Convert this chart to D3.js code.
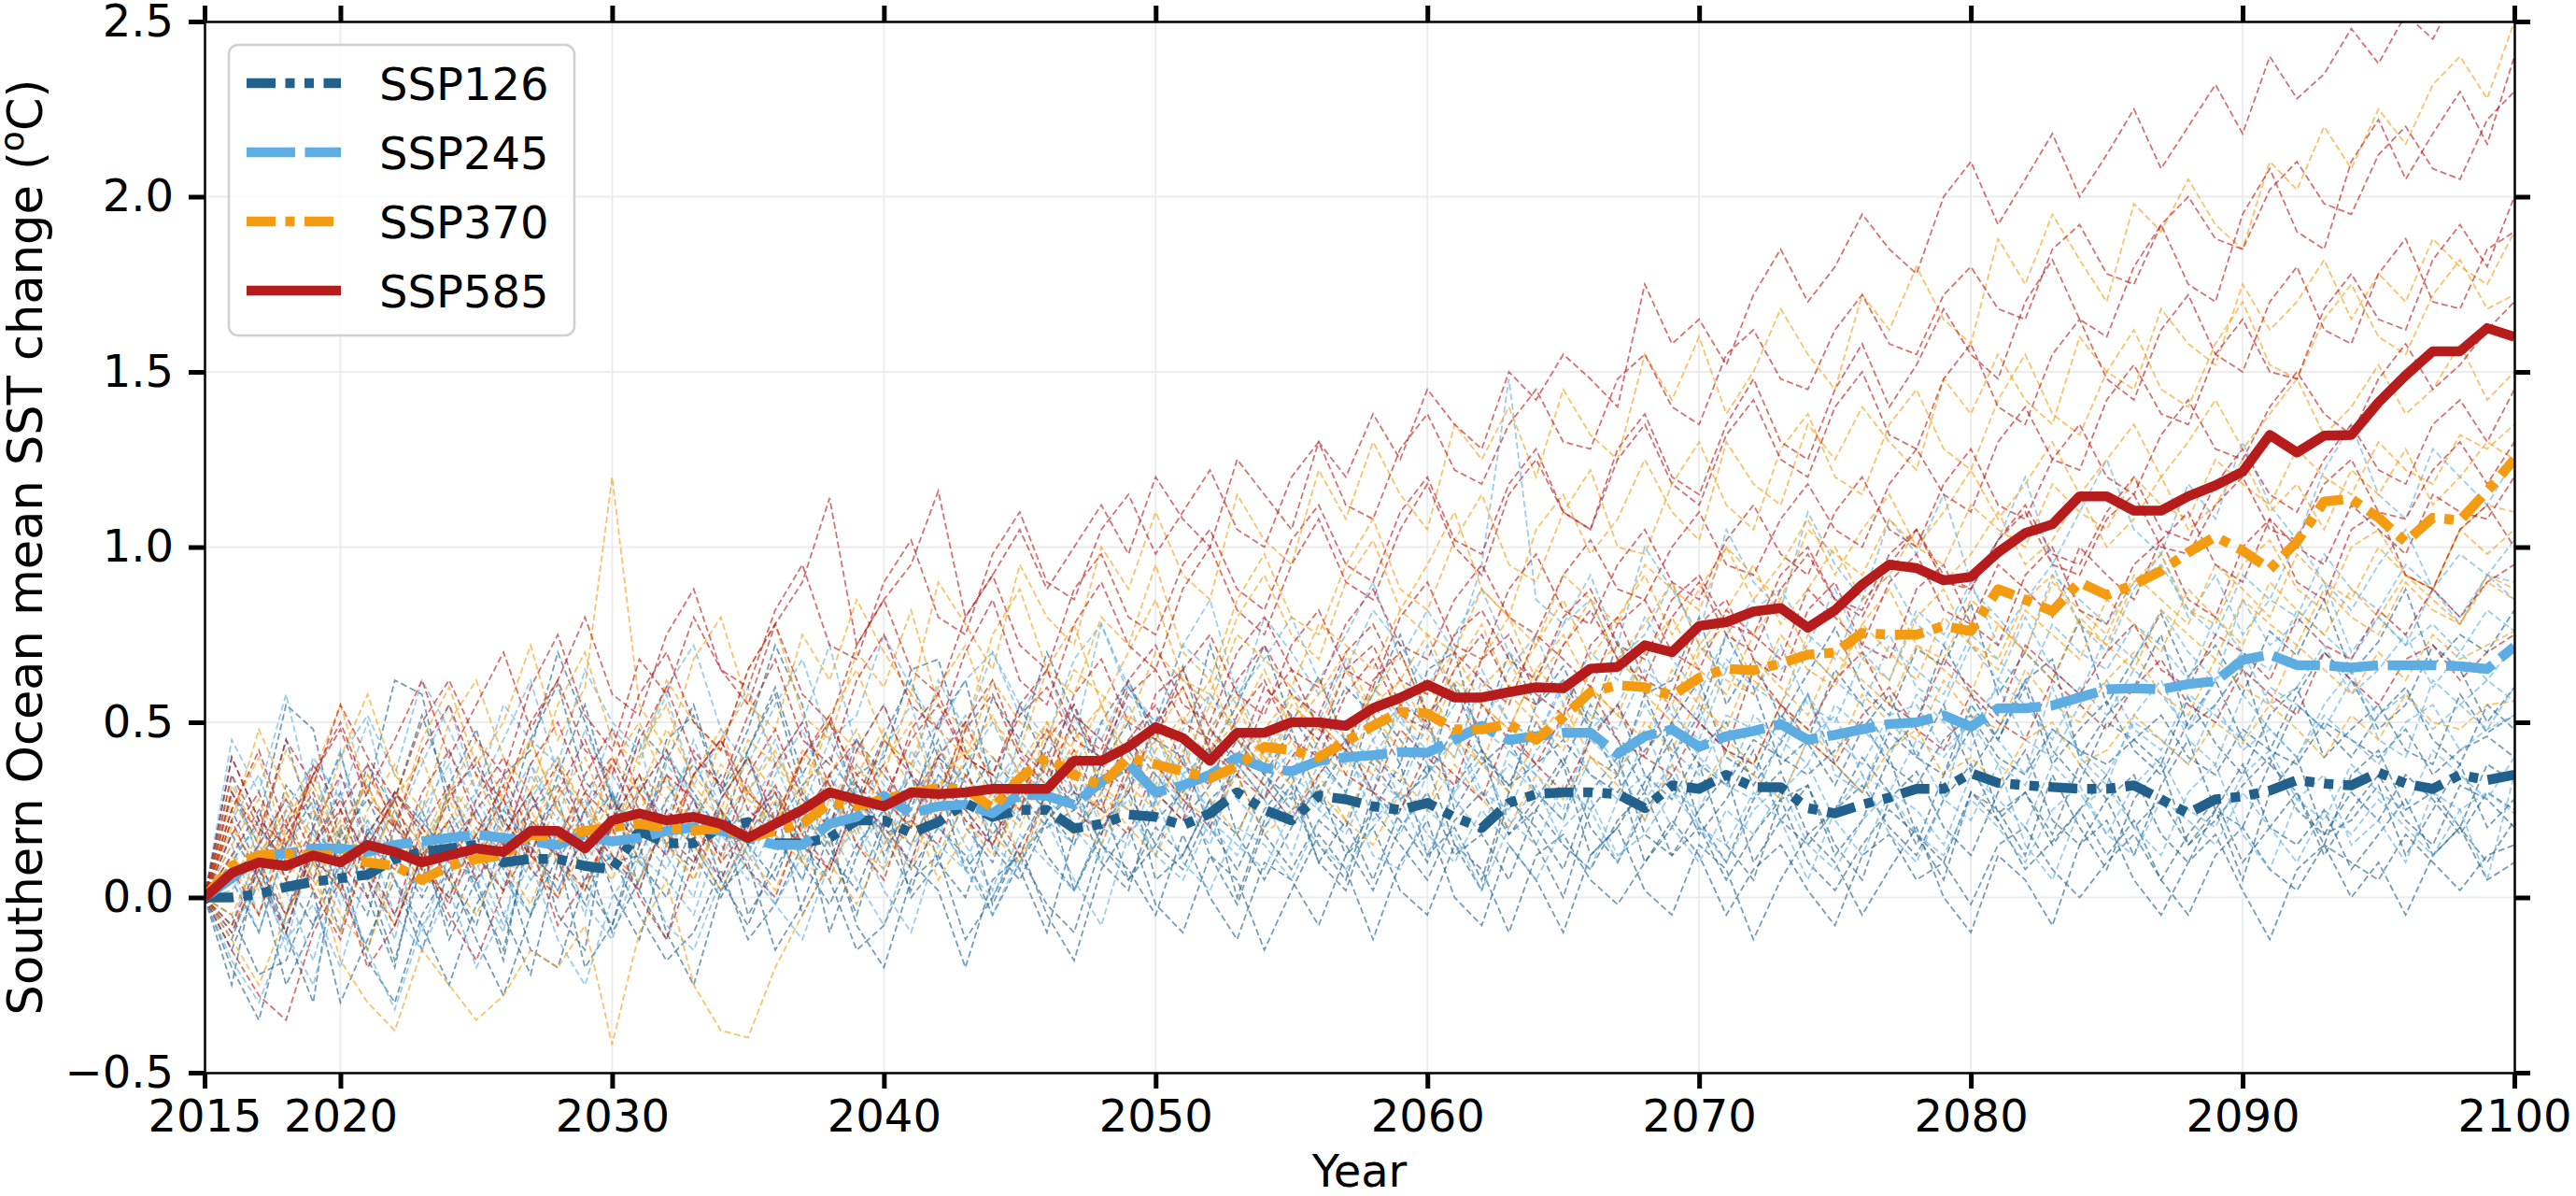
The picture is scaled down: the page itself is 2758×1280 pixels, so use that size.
<!DOCTYPE html>
<html>
<head>
<meta charset="utf-8">
<script src="https://cdn.jsdelivr.net/npm/d3@7"></script>
<style>
html,body{margin:0;padding:0;background:#fff;}
svg{display:block;}
</style>
</head>
<body>
<script>
// ---------------- DATA ----------------
const years = d3.range(2015, 2101);
const xTickValues = [2015, 2020, 2030, 2040, 2050, 2060, 2070, 2080, 2090, 2100];
const yTickValues = [-0.5, 0.0, 0.5, 1.0, 1.5, 2.0, 2.5];
const scenarios = ["SSP126", "SSP245", "SSP370", "SSP585"];
const scenarioColors = ["#21618C", "#5DADE2", "#F39C12", "#B71C1C"];

const ssp126Mean = [
0,0,.01,.03,.045,.055,.065,.11,.13,.14,
.15,.10,.11,.11,.09,.08,.19,.155,.155,.20,
.215,.155,.155,.17,.22,.22,.184,.215,.27,.23,
.25,.25,.197,.21,.237,.23,.206,.24,.30,.25,
.22,.29,.28,.26,.25,.27,.229,.198,.27,.295,
.30,.30,.295,.255,.32,.31,.35,.315,.315,.255,
.24,.265,.285,.31,.31,.355,.327,.32,.315,.31,
.31,.32,.28,.24,.28,.288,.305,.335,.325,.32,
.357,.325,.31,.35,.335,.35];
const ssp245Mean = [
0,.055,.12,.125,.14,.14,.13,.15,.16,.17,
.18,.17,.16,.15,.18,.16,.17,.19,.20,.19,
.17,.15,.15,.21,.23,.29,.24,.26,.265,.24,
.295,.29,.265,.33,.38,.30,.32,.35,.40,.37,
.36,.39,.40,.406,.415,.413,.45,.49,.45,.46,
.47,.47,.41,.46,.48,.43,.46,.475,.495,.45,
.464,.48,.495,.50,.52,.487,.54,.54,.548,.571,
.594,.597,.594,.609,.617,.678,.693,.663,.663,.656,
.663,.663,.663,.66,.652,.716];
const ssp370Mean = [
0,.09,.12,.125,.12,.12,.10,.09,.05,.09,
.11,.12,.18,.17,.19,.20,.21,.20,.19,.20,
.17,.19,.21,.27,.26,.28,.30,.31,.31,.255,
.34,.40,.35,.32,.40,.38,.36,.34,.375,.43,
.42,.40,.445,.49,.53,.525,.48,.48,.495,.45,
.515,.586,.606,.60,.576,.627,.653,.648,.668,.693,
.699,.755,.75,.75,.775,.76,.88,.85,.817,.90,
.863,.893,.932,.985,1.03,.99,.937,1.015,1.13,1.138,
1.084,1.015,1.084,1.076,1.16,1.25];
const ssp585Mean = [
0,.07,.10,.09,.12,.10,.15,.13,.10,.12,
.14,.13,.19,.19,.14,.22,.24,.22,.23,.21,
.17,.21,.25,.30,.28,.26,.30,.295,.30,.31,
.31,.31,.39,.39,.43,.486,.455,.39,.47,.47,
.50,.50,.49,.54,.57,.607,.571,.571,.586,.60,
.597,.653,.658,.72,.70,.775,.786,.816,.826,.77,
.82,.893,.95,.94,.905,.915,.985,1.04,1.065,1.145,
1.145,1.104,1.104,1.145,1.176,1.215,1.32,1.27,1.318,1.32,
1.413,1.49,1.559,1.559,1.625,1.60];

// individual model runs (thin dashed lines), 2015..2100
const ssp126Models = [
[0,.18,.05,.32,.22,.41,.15,.28,.52,.30, .38,.20,.45,.61,.33,.25,.48,.39,.55,.30, .42,.60,.35,.50,.28,.46,.62,.40,.33,.57, .45,.70,.52,.38,.60,.48,.66,.41,.55,.72, .50,.63,.44,.58,.75,.52,.61,.47,.70,.55, .66,.49,.73,.58,.62,.80,.55,.68,.51,.64, .77,.60,.52,.71,.66,.84,.58,.70,.62,.79, .55,.68,.81,.63,.72,.58,.76,.69,.85,.64, .73,.88,.66,.75,.70,.82],
[0,-.12,.10,-.05,.20,.02,-.15,.12,.25,.05, -.08,.18,.30,.10,-.02,.22,.35,.15,.08,.28, .40,.18,.05,.25,.33,.12,.28,.45,.20,.10, .32,.25,.15,.38,.50,.22,.30,.42,.18,.35, .48,.28,.20,.40,.33,.52,.25,.38,.45,.30, .22,.46,.55,.35,.28,.42,.50,.32,.44,.58, .38,.30,.47,.40,.55,.36,.48,.62,.42,.33, .50,.45,.38,.57,.44,.35,.52,.60,.40,.48, .55,.42,.38,.58,.47,.52],
[0,.25,.08,-.10,.15,.30,.05,-.18,.10,.22, .02,-.15,.18,.28,.04,-.08,.20,.35,.12,.00, .15,.27,-.05,.10,.32,.18,.02,.25,.38,.14, .05,.22,.30,.10,.02,.28,.40,.20,.08,.25, .35,.15,.05,.30,.22,.10,.32,.42,.18,.25, .38,.12,.20,.33,.45,.22,.10,.28,.36,.18, .25,.40,.30,.15,.35,.48,.24,.30,.18,.38, .28,.12,.32,.45,.25,.20,.38,.30,.15,.35, .42,.25,.30,.20,.38,.33],
[0,-.20,-.35,-.05,.12,-.10,.20,.05,-.15,.08, .18,-.05,-.22,.10,.25,.02,-.12,.15,.28,.05, -.08,.12,.30,.15,-.05,.20,.35,.10,.00,.22, .08,-.10,.18,.28,.05,.15,.32,.12,-.02,.20, .30,.10,.22,.05,.25,.38,.15,.02,.28,.20, .08,.30,.40,.18,.12,.25,.35,.10,.22,.32, .15,.05,.28,.36,.20,.12,.30,.42,.22,.15, .28,.35,.18,.10,.25,.38,.20,.30,.12,.25, .35,.22,.15,.32,.28,.20],
[0,.10,.22,.05,-.08,.18,.28,.12,.00,.15, .25,.08,-.05,.20,.12,-.10,.05,.22,.15,.02, .18,.30,.10,-.02,.15,.25,.08,.20,.12,-.05, .10,.22,.32,.15,.05,.20,.12,.28,.35,.18, .08,.22,.15,.02,.20,.30,.12,.18,.05,.25, .15,.08,.22,.30,.12,.20,.05,.18,.28,.10, .02,.15,.25,.18,.10,.30,.22,.08,.16,.25, .12,.22,.05,.18,.28,.10,.20,.15,.25,.08, .18,.28,.12,.20,.10,.22],
[0,-.15,.05,-.25,-.08,.10,-.18,-.30,-.05,.08, -.12,-.28,-.05,.12,-.20,-.08,.15,-.10,-.25,.02, .10,-.15,-.02,.18,-.08,-.20,.05,.12,-.12,.00, .15,-.05,-.18,.08,.20,-.02,-.10,.12,.05,-.15, .02,.18,.08,-.12,.10,.22,.00,-.08,.15,.05, -.10,.12,.20,.02,-.05,.15,.08,-.12,.05,.18, .10,-.05,.08,.20,.00,-.10,.12,.05,-.08,.15, .22,.05,-.05,.10,.18,.02,-.12,.08,.15,.00, .10,-.05,.12,.20,.05,.10],
[0,.30,.15,.45,.20,.10,.38,.25,.05,.32, .48,.22,.12,.35,.55,.28,.15,.40,.30,.18, .42,.58,.30,.20,.45,.35,.25,.50,.62,.32, .22,.40,.55,.30,.45,.35,.25,.48,.38,.28, .52,.40,.30,.55,.45,.35,.60,.42,.32,.50, .38,.55,.45,.30,.50,.62,.40,.35,.52,.44, .32,.48,.58,.40,.35,.55,.45,.60,.38,.48, .56,.42,.35,.50,.62,.45,.38,.55,.48,.40, .52,.60,.45,.38,.55,.48],
[0,.05,-.10,.15,.28,.08,-.05,.20,.12,-.08, .10,.25,.15,.02,.18,.30,.10,.00,.22,.35, .15,.05,.25,.12,.02,.22,.15,.32,.08,.18, .28,.12,.02,.20,.30,.15,.08,.25,.18,.05, .20,.32,.12,.25,.15,.05,.22,.30,.18,.28, .40,.20,.10,.25,.35,.18,.28,.42,.22,.15, .25,.32,.20,.12,.28,.38,.22,.30,.15,.25, .35,.20,.28,.15,.22,.32,.40,.25,.18,.30, .22,.35,.28,.18,.30,.25],
[0,.40,.22,.55,.48,.15,.30,.62,.58,.25, .10,.35,.42,.70,.50,.28,.18,.45,.52,.30, .48,.72,.55,.20,.35,.40,.65,.68,.42,.30, .55,.38,.25,.50,.62,.45,.40,.72,.48,.35, .28,.45,.60,.52,.38,.65,.70,.42,.30,.55, .62,.48,.35,.58,.40,.52,.75,.60,.38,.45, .65,.55,.42,.50,.72,.58,.45,.62,.68,.40, .52,.60,.75,.48,.55,.66,.42,.58,.70,.62, .48,.55,.72,.65,.50,.60],
[0,-.05,-.22,-.18,.02,-.30,-.12,.05,-.08,-.25, -.02,.10,-.15,-.20,.05,.12,-.05,-.18,-.10,.08, -.12,-.02,.15,.05,-.15,-.08,.10,.02,-.20,.05, .12,-.02,-.10,.15,.08,-.05,.18,.00,-.12,.10, .05,-.08,.12,.20,.02,-.05,.15,.08,-.10,.12, .18,.05,-.02,.10,.22,.12,-.05,.08,.15,.02, -.08,.12,.18,.05,.10,-.02,.15,.20,.08,.00, .10,.18,.05,-.05,.12,.20,.08,.02,.15,.10, .05,.18,.10,.02,.12,.15],
[0,.08,.12,.20,.10,.05,.18,.30,.22,.12, .05,.15,.25,.32,.20,.10,.12,.28,.38,.25, .15,.20,.32,.40,.28,.18,.22,.35,.28,.40, .30,.20,.25,.38,.42,.30,.22,.32,.45,.35, .25,.30,.42,.38,.28,.35,.48,.40,.32,.38, .45,.35,.30,.42,.50,.38,.32,.45,.40,.35, .42,.50,.38,.32,.45,.52,.40,.35,.48,.42, .38,.45,.52,.40,.35,.48,.42,.38,.50,.45, .40,.48,.35,.42,.46,.40],
[0,-.25,.12,-.10,-.30,.20,.00,-.20,.15,-.12, .05,-.18,.22,-.05,-.15,.30,.02,-.12,.18,.25, -.05,.08,.22,-.10,.12,.30,.00,.10,.28,-.02, .15,.30,.02,.18,.35,.05,.12,.28,.00,.22, .32,.10,.02,.25,.38,.12,.20,.05,.30,.15, .00,.25,.35,.10,.20,.38,.15,.05,.28,.32, .12,.22,.40,.18,.05,.30,.25,.12,.35,.20, .08,.28,.38,.15,.25,.05,.30,.40,.18,.22, .32,.12,.25,.38,.20,.28]
];
const ssp245Models = [
[0,.22,.35,.12,.40,.28,.50,.20,.38,.55, .30,.45,.62,.35,.25,.48,.40,.58,.32,.45, .60,.38,.50,.72,.42,.55,.35,.62,.48,.70, .52,.65,.45,.78,.60,.50,.72,.85,.58,.68, .80,.62,.75,.90,.68,.82,.70,.95,1.48,.85, .78,.92,.72,1.00,.88,.75,1.05,.90,.82,1.10, .95,.85,1.08,.98,1.15,.90,1.02,1.20,.95,1.10, 1.25,1.05,.98,1.18,1.08,1.30,1.12,1.02,1.22,1.35, 1.15,1.08,1.28,1.20,1.12,1.25],
[0,.08,-.10,.15,.25,.05,.18,-.05,.12,.30, .15,.02,.28,.40,.18,.08,.32,.22,.45,.25, .12,.35,.48,.28,.20,.42,.55,.30,.38,.50, .35,.28,.52,.45,.62,.40,.35,.58,.48,.42, .60,.50,.68,.45,.55,.72,.58,.48,.65,.75, .55,.70,.62,.80,.68,.58,.75,.85,.65,.72, .88,.70,.62,.82,.75,.90,.72,.85,.95,.78, .70,.88,.98,.80,.92,.75,.85,1.02,.90,.82, .95,1.05,.88,.98,.92,1.02],
[0,.30,.12,.25,.05,.35,.20,.10,.28,.15, .02,.25,.38,.18,.30,.12,.05,.28,.40,.20, .32,.15,.25,.45,.30,.20,.38,.50,.28,.22, .45,.35,.25,.40,.55,.38,.30,.48,.60,.42, .35,.52,.45,.30,.58,.48,.40,.62,.50,.45, .60,.48,.55,.70,.52,.45,.65,.58,.72,.55, .50,.68,.75,.60,.55,.72,.62,.80,.65,.58, .75,.68,.82,.70,.62,.85,.72,.78,.90,.70, .80,.72,.88,.78,.92,.85],
[0,-.08,.15,.02,-.18,.10,.22,.05,-.10,.12, .20,.05,-.05,.18,.28,.10,.02,.25,.15,.05, .22,.32,.12,.05,.28,.18,.10,.35,.25,.15, .08,.30,.38,.20,.15,.35,.28,.18,.40,.32, .22,.38,.30,.45,.28,.35,.48,.30,.25,.42, .50,.35,.28,.45,.55,.40,.32,.52,.45,.38, .55,.48,.40,.58,.50,.42,.62,.55,.45,.60, .52,.65,.58,.48,.62,.70,.55,.60,.72,.58, .65,.75,.60,.70,.62,.72],
[0,.35,.10,-.15,.20,.42,.08,-.12,.25,.38, .05,-.10,.30,.15,-.05,.22,.45,.12,.00,.28, .40,.18,.05,.35,.22,.08,.42,.30,.15,.02, .25,.38,.20,.10,.32,.48,.25,.15,.38,.28, .12,.35,.45,.22,.30,.50,.28,.18,.42,.35, .25,.48,.38,.22,.40,.55,.32,.28,.45,.58, .35,.30,.50,.42,.28,.55,.45,.35,.60,.40, .32,.52,.62,.45,.38,.58,.48,.40,.55,.65, .45,.40,.62,.55,.48,.60],
[0,.12,.20,.08,.15,-.02,.10,.25,.15,.05, .18,.28,.12,.02,.20,.30,.18,.08,.25,.15, .05,.22,.18,.30,.12,.25,.35,.20,.10,.28, .38,.22,.15,.30,.25,.12,.35,.42,.28,.20, .32,.25,.40,.30,.18,.35,.45,.28,.38,.30, .22,.40,.35,.48,.30,.25,.42,.38,.28,.45, .52,.35,.30,.45,.40,.50,.38,.32,.48,.42, .35,.50,.45,.38,.55,.42,.48,.40,.52,.45, .38,.50,.55,.42,.48,.52],
[0,-.18,-.30,-.10,-.25,.05,-.15,-.32,-.08,.02, -.20,-.05,.10,-.12,-.25,.00,.12,-.08,-.15,.05, .15,-.02,-.12,.10,.20,.02,-.10,.15,.08,-.05, .12,.22,.05,-.08,.18,.28,.10,.02,.20,.15, .05,.22,.30,.12,.08,.25,.18,.02,.20,.32, .15,.08,.28,.35,.20,.10,.25,.18,.30,.38, .22,.12,.30,.25,.15,.35,.28,.20,.38,.30, .18,.32,.40,.25,.20,.35,.42,.28,.22,.38, .30,.25,.42,.35,.28,.40],
[0,.15,-.05,.25,.38,.12,.05,.30,.20,.42, .25,.10,.35,.22,.48,.30,.15,.38,.28,.12, .30,.45,.22,.15,.38,.28,.20,.42,.32,.18, .25,.40,.30,.15,.35,.28,.45,.20,.12,.32, .42,.25,.18,.35,.28,.12,.30,.40,.22,.15, .32,.25,.10,.28,.38,.20,.15,.30,.22,.05, .25,.35,.18,.10,.28,.22,.38,.15,.05,.25, .32,.20,.12,.30,.38,.18,.08,.28,.35,.15, .22,.10,.30,.25,.05,.35],
[0,.45,.30,.58,.25,.40,.52,.35,.62,.48, .30,.55,.45,.38,.65,.50,.42,.60,.72,.48, .38,.55,.68,.45,.52,.75,.60,.48,.62,.70, .55,.45,.68,.78,.58,.50,.72,.65,.55,.80, .70,.58,.65,.82,.72,.60,.75,.88,.70,.62, .78,.85,.68,.75,.90,.72,.65,.82,.88,.75, .68,.85,.92,.78,.72,.88,.80,.70,.92,.85, .78,.90,.95,.82,.75,.92,.85,.80,.98,.88, .82,.95,.88,.80,.92,.90],
[0,.02,.15,.28,.18,.08,.22,.12,.02,.20, .30,.18,.05,.15,.25,.35,.22,.12,.28,.20, .10,.25,.35,.22,.30,.15,.28,.38,.25,.32, .42,.28,.20,.35,.30,.45,.35,.25,.40,.48, .35,.28,.45,.40,.52,.38,.30,.48,.42,.35, .50,.45,.38,.55,.42,.35,.52,.48,.40,.58, .45,.38,.52,.55,.42,.50,.60,.45,.40,.55, .62,.48,.42,.58,.52,.45,.60,.55,.48,.62, .52,.58,.48,.55,.62,.56],
[0,.18,.05,-.08,.10,.20,.32,.15,.05,.18, .28,.15,.38,.25,.10,.20,.30,.42,.28,.18, .25,.38,.20,.30,.45,.32,.25,.40,.52,.35, .28,.45,.38,.50,.42,.30,.48,.58,.45,.38, .52,.45,.38,.60,.50,.42,.55,.65,.50,.45, .62,.52,.48,.65,.58,.50,.68,.60,.55,.70, .62,.55,.72,.65,.58,.75,.68,.60,.78,.70, .65,.78,.72,.62,.80,.70,.65,.82,.75,.68, .80,.72,.78,.70,.82,.76],
[0,-.10,.05,-.12,-.02,-.20,.08,-.05,-.15,.02, .10,-.08,.05,.15,-.02,-.12,.12,.05,-.05,.18, .08,-.02,.12,.20,.05,-.08,.15,.22,.08,.00, .18,.10,.02,.20,.28,.12,.05,.22,.15,.08, .25,.15,.08,.20,.30,.18,.10,.25,.15,.05, .20,.28,.12,.18,.30,.20,.10,.25,.32,.15, .08,.22,.30,.18,.12,.28,.20,.10,.25,.32, .18,.12,.28,.22,.15,.30,.20,.10,.25,.18, .28,.20,.12,.25,.30,.24]
];
const ssp370Models = [
[0,.25,.40,.15,.35,.55,.30,.20,.45,.60, .38,.50,.72,.45,.60,1.20,.55,.42,.68,.80, .55,.48,.75,.62,.85,.70,.58,.90,.78,.65, .95,.80,.72,1.00,.88,1.10,.92,.85,1.15,1.02, .95,1.22,1.08,1.30,1.15,1.05,1.35,1.25,1.40,1.20, 1.45,1.32,1.25,1.55,1.42,1.60,1.38,1.50,1.68,1.55, 1.45,1.72,1.62,1.80,1.65,1.58,1.88,1.75,1.95,1.82, 1.70,1.98,1.90,2.05,1.92,1.85,2.10,2.02,2.20,2.08, 2.25,2.15,2.32,2.40,2.28,2.50],
[0,.10,-.05,.20,.32,.15,.05,.28,.40,.18, .10,.30,.45,.25,.15,.38,.50,.32,.22,.45, .58,.40,.30,.52,.65,.45,.38,.60,.72,.50, .42,.65,.78,.55,.70,.85,.62,.58,.80,.92, .75,.68,.90,1.02,.82,.95,1.10,.88,.80,1.05, 1.15,.98,1.08,1.25,1.10,1.02,1.30,1.18,1.12,1.35, 1.25,1.40,1.30,1.22,1.48,1.38,1.55,1.42,1.35,1.60, 1.50,1.45,1.68,1.58,1.52,1.75,1.62,1.70,1.82,1.65, 1.78,1.70,1.88,1.80,1.75,1.90],
[0,-.12,-.25,-.05,.10,-.18,-.30,-.38,-.15,-.25, -.35,-.28,-.15,-.20,-.08,-.42,-.10,.05,-.25,-.38, -.40,-.20,-.05,.10,-.02,.15,.25,.05,.18,.30, .12,.28,.40,.22,.35,.48,.30,.42,.55,.38, .50,.62,.45,.58,.70,.52,.65,.78,.60,.72, .85,.68,.80,.92,.75,.88,1.00,.85,.95,1.08, .92,1.05,1.15,1.00,1.10,1.22,1.08,1.18,1.30,1.15, 1.25,1.35,1.20,1.30,1.42,1.28,1.38,1.48,1.32,1.40, 1.52,1.38,1.45,1.58,1.42,1.50],
[0,.20,.08,.30,.15,.02,.25,.38,.12,.22, .35,.18,.08,.28,.40,.20,.30,.15,.35,.48, .28,.20,.42,.32,.18,.38,.50,.30,.45,.35, .25,.48,.40,.55,.35,.45,.60,.42,.50,.65, .48,.58,.70,.52,.62,.75,.58,.68,.80,.62, .72,.85,.68,.78,.90,.72,.82,.95,.78,.88, 1.00,.85,.92,1.05,.90,.98,1.10,.95,1.02,1.15, 1.00,1.08,1.20,1.05,1.12,1.25,1.10,1.18,1.05,1.22, 1.15,1.28,1.12,1.20,1.30,1.25],
[0,.05,.18,-.05,.10,.22,.08,-.08,.15,.28, .12,.02,.20,.32,.15,.05,.25,.35,.20,.10, .30,.42,.25,.15,.35,.48,.30,.22,.40,.52, .35,.28,.45,.55,.40,.32,.50,.62,.45,.38, .55,.48,.65,.52,.42,.60,.70,.55,.48,.65, .75,.60,.52,.70,.80,.65,.58,.75,.85,.70, .62,.78,.88,.72,.68,.85,.78,.70,.90,.82, .75,.92,.85,.78,.95,.88,.80,.98,.90,.85, 1.00,.92,.88,1.05,.98,1.05],
[0,.32,.18,.42,.25,.12,.35,.22,.10,.30, .45,.28,.18,.38,.25,.15,.42,.55,.32,.22, .40,.30,.18,.35,.48,.28,.20,.42,.35,.22, .38,.50,.32,.25,.45,.38,.28,.48,.58,.40, .32,.50,.42,.35,.55,.62,.45,.38,.58,.50, .42,.60,.52,.45,.65,.55,.48,.68,.60,.52, .70,.62,.55,.72,.65,.58,.78,.70,.62,.80, .72,.65,.82,.75,.68,.85,.78,.72,.88,.80, .75,.90,.82,.78,.92,.88],
[0,-.05,.12,.25,.05,-.10,.15,.28,.08,.00, .20,.10,-.02,.18,.30,.12,.05,.22,.15,.02, .18,.28,.10,.05,.25,.18,.08,.30,.22,.12, .28,.38,.20,.15,.32,.25,.42,.28,.18,.35, .45,.30,.22,.40,.35,.25,.48,.38,.30,.45, .55,.40,.35,.50,.42,.58,.45,.38,.55,.48, .40,.58,.50,.45,.62,.52,.48,.65,.55,.50, .62,.70,.58,.52,.68,.60,.55,.72,.65,.58, .70,.62,.75,.68,.72,.76],
[0,.15,.28,.10,.02,.20,.32,.15,.05,.18, .08,.22,.12,.00,.15,.28,.10,.18,.05,.25, .12,.02,.20,.30,.15,.08,.22,.12,.28,.18, .10,.25,.18,.30,.20,.12,.28,.22,.35,.18, .25,.35,.22,.15,.30,.25,.38,.28,.20,.35, .28,.40,.32,.22,.38,.30,.42,.35,.28,.45, .38,.30,.42,.48,.35,.40,.32,.45,.50,.38, .42,.52,.45,.38,.50,.44,.55,.48,.40,.52, .45,.58,.50,.48,.55,.56],
[0,.22,.48,.30,.15,.40,.58,.35,.25,.50, .62,.40,.30,.55,.70,.45,.38,.62,.50,.42, .65,.78,.52,.45,.70,.60,.82,.55,.48,.75, .88,.65,.58,.80,.72,.95,.70,.62,.85,.98, .80,.75,.95,1.08,.88,.82,1.02,1.15,.95,.90, 1.10,1.22,1.00,.98,1.18,1.30,1.12,1.05,1.28,1.38, 1.20,1.15,1.35,1.45,1.28,1.22,1.42,1.55,1.38,1.32, 1.50,1.62,1.45,1.40,1.58,1.70,1.52,1.48,1.65,1.75, 1.60,1.55,1.72,1.82,1.68,1.72],
[0,-.08,.05,.18,.10,-.05,-.15,.08,.20,.05, -.05,.12,.25,.10,.02,.20,.30,.15,.05,.22, .32,.18,.10,.28,.38,.25,.15,.32,.42,.28, .20,.38,.48,.32,.25,.42,.52,.38,.30,.48, .58,.42,.35,.55,.62,.48,.40,.60,.68,.52, .45,.65,.72,.58,.50,.70,.78,.62,.55,.75, .82,.68,.62,.80,.88,.72,.68,.85,.92,.78, .72,.90,.98,.82,.78,.95,1.02,.88,.82,1.00, 1.05,.92,.88,1.05,1.12,1.10],
[0,.12,.02,.22,.35,.18,.10,.25,.15,.32, .22,.12,.30,.40,.25,.18,.35,.28,.20,.38, .30,.22,.40,.32,.25,.45,.38,.30,.48,.40, .32,.50,.42,.35,.52,.45,.38,.55,.48,.40, .58,.50,.42,.60,.52,.45,.62,.55,.48,.65, .58,.50,.68,.60,.55,.72,.62,.58,.75,.65, .60,.78,.70,.62,.80,.72,.65,.82,.75,.68, .85,.78,.70,.88,.80,.72,.90,.82,.75,.88, .80,.92,.85,.78,.90,.85],
[0,.28,.15,.05,.25,.12,.35,.22,.08,.30, .18,.32,.45,.25,.15,.40,.30,.48,.35,.25, .45,.38,.28,.50,.42,.35,.58,.48,.40,.62, .50,.45,.65,.58,.50,.70,.62,.55,.75,.68, .60,.78,.72,.65,.82,.75,.70,.88,.80,.72, .92,.85,.78,.95,.88,.82,1.00,.92,.85,1.05, .98,.92,1.08,1.00,.95,1.12,1.05,1.00,1.18,1.10, 1.05,1.20,1.12,1.08,1.25,1.18,1.12,1.28,1.20,1.15, 1.30,1.22,1.18,1.32,1.28,1.35]
];
const ssp585Models = [
[0,.30,.18,.45,.32,.55,.40,.28,.50,.62, .45,.35,.60,.75,.52,.42,.68,.58,.80,.65, .55,.78,.90,1.14,.72,.85,.95,1.16,.80,.92, 1.05,.88,1.00,1.12,.98,1.20,1.08,1.00,1.25,1.15, 1.05,1.30,1.20,1.38,1.25,1.45,1.35,1.28,1.50,1.42, 1.55,1.48,1.40,1.75,1.58,1.65,1.52,1.72,1.85,1.70, 1.80,1.95,1.85,1.78,2.00,2.10,1.92,2.05,2.18,2.00, 2.12,2.25,2.08,2.20,2.32,2.18,2.40,2.28,2.35,2.48, 2.38,2.52,2.45,2.60,2.55,2.70],
[0,.12,.25,.05,.20,.35,.15,.08,.30,.42, .22,.15,.38,.50,.30,.22,.45,.60,.40,.32, .52,.68,.45,.38,.62,.75,.55,.48,.70,.85, .62,.55,.78,.90,.72,.65,.88,1.00,.82,.75, .95,1.08,.90,.85,1.05,1.18,1.00,.92,1.15,1.25, 1.10,1.05,1.28,1.38,1.20,1.15,1.35,1.48,1.30,1.25, 1.45,1.58,1.40,1.52,1.68,1.55,1.48,1.70,1.82,1.65, 1.60,1.80,1.92,1.75,1.70,1.95,2.08,1.90,1.85,2.10, 2.22,2.05,2.18,2.30,2.15,2.40],
[0,-.08,.10,.22,.02,-.12,.15,.28,.08,.00, .18,.32,.12,.05,.25,.38,.20,.12,.35,.45, .25,.18,.40,.52,.32,.25,.48,.58,.40,.35, .55,.65,.48,.42,.62,.72,.55,.50,.70,.80, .65,.60,.78,.88,.72,.68,.85,.95,.80,.75, .92,1.02,.88,.85,1.00,1.10,.95,.92,1.08,1.18, 1.05,1.00,1.18,1.28,1.15,1.10,1.30,1.40,1.25,1.22, 1.42,1.52,1.38,1.35,1.55,1.65,1.50,1.48,1.68,1.78, 1.65,1.62,1.82,1.92,1.80,2.00],
[0,.22,.05,-.10,.15,.28,.10,-.05,.20,.32, .12,.02,.25,.38,.18,.08,.30,.42,.22,.12, .35,.48,.28,.20,.42,.55,.35,.28,.50,.62, .42,.35,.58,.68,.50,.45,.65,.75,.58,.52, .72,.82,.65,.60,.80,.90,.72,.68,.88,.98, .82,.78,.95,1.05,.90,.85,1.02,1.12,.98,.92, 1.10,1.20,1.05,1.00,1.18,1.28,1.12,1.08,1.25,1.35, 1.20,1.15,1.32,1.42,1.28,1.25,1.40,1.50,1.38,1.32, 1.48,1.58,1.45,1.52,1.62,1.70],
[0,-.15,-.28,-.35,-.10,.05,-.20,-.08,.12,-.05, -.18,.02,.15,-.08,.05,.20,.00,-.12,.10,.25, .08,.00,.22,.35,.15,.05,.28,.40,.22,.15, .35,.48,.30,.25,.45,.55,.38,.32,.52,.62, .45,.40,.58,.68,.52,.48,.65,.75,.60,.55, .72,.82,.68,.62,.80,.90,.75,.70,.88,.98, .85,.80,.95,1.05,.92,.88,1.02,1.12,.98,.95, 1.10,1.20,1.05,1.02,1.18,1.28,1.15,1.10,1.25,1.35, 1.22,1.18,1.35,1.42,1.30,1.45],
[0,.35,.20,.10,.38,.25,.12,.30,.18,.05, .28,.40,.22,.15,.35,.48,.30,.20,.42,.32, .18,.38,.50,.32,.25,.45,.35,.22,.48,.58, .40,.32,.52,.45,.35,.58,.65,.48,.40,.60, .52,.45,.65,.72,.55,.50,.70,.62,.55,.75, .68,.60,.78,.85,.70,.65,.82,.75,.68,.88, .80,.72,.90,.98,.82,.78,.95,.88,.80,1.00, .92,.85,1.02,1.10,.95,.90,1.08,1.00,.95,1.12, 1.05,.98,1.15,1.10,1.08,1.20],
[0,.08,-.05,.18,.30,.10,.00,.22,.12,-.02, .15,.28,.08,.00,.20,.12,.02,.25,.18,.05, .22,.30,.15,.08,.28,.20,.10,.32,.25,.15, .30,.42,.25,.18,.38,.30,.22,.45,.35,.28, .40,.50,.35,.30,.48,.40,.32,.55,.45,.38, .52,.60,.45,.40,.58,.50,.42,.65,.55,.48, .62,.70,.55,.50,.68,.60,.52,.72,.65,.58, .70,.78,.65,.60,.75,.70,.62,.80,.72,.68, .82,.75,.88,.80,.90,.95],
[0,.18,.30,.12,.05,.25,.38,.20,.10,.28, .40,.22,.12,.30,.45,.25,.15,.35,.28,.10, .20,.32,.18,.08,.28,.38,.22,.15,.35,.25, .12,.30,.42,.25,.18,.38,.28,.20,.40,.32, .22,.35,.45,.30,.25,.42,.35,.28,.48,.38, .30,.45,.55,.40,.35,.50,.42,.38,.55,.45, .38,.52,.60,.48,.42,.58,.50,.45,.62,.55, .48,.60,.68,.55,.50,.65,.58,.52,.70,.62, .55,.68,.72,.62,.70,.75],
[0,.25,.42,.20,.35,.50,.30,.45,.62,.40, .55,.70,.48,.62,.80,.58,.52,.75,.88,.65, .60,.82,.95,.72,.68,.90,1.02,.80,.75,.98, 1.10,.90,.85,1.05,1.15,.98,1.10,1.22,1.05,1.00, 1.20,1.30,1.12,1.08,1.28,1.38,1.22,1.18,1.35,1.45, 1.30,1.28,1.48,1.55,1.40,1.35,1.55,1.62,1.48,1.45, 1.62,1.72,1.58,1.55,1.72,1.80,1.68,1.65,1.85,1.92, 1.78,1.75,1.92,2.00,1.88,1.85,2.02,2.10,1.98,1.95, 2.12,2.20,2.08,2.05,2.22,2.30],
[0,.05,.15,.28,.12,.02,.18,.30,.20,.10, .25,.35,.18,.12,.30,.40,.25,.18,.35,.45, .30,.22,.40,.50,.35,.28,.45,.55,.40,.35, .52,.60,.45,.40,.58,.65,.50,.45,.62,.72, .58,.52,.70,.78,.62,.58,.75,.82,.68,.62, .80,.88,.72,.68,.85,.92,.78,.75,.92,1.00, .85,.82,.98,1.05,.90,.88,1.02,1.10,.95,.92, 1.08,1.15,1.00,.98,1.12,1.20,1.05,1.02,1.18,1.25, 1.10,1.08,1.22,1.30,1.18,1.30],
[0,.40,.22,.15,.35,.48,.28,.20,.42,.55, .35,.28,.50,.62,.42,.35,.58,.70,.50,.42, .65,.78,.58,.50,.72,.85,.65,.58,.80,.92, .72,.65,.88,.98,.80,.75,.95,1.05,.88,.82, 1.02,1.12,.95,.90,1.10,1.20,1.02,.98,1.18,1.28, 1.10,1.05,1.25,1.35,1.18,1.12,1.32,1.42,1.25,1.20, 1.40,1.50,1.32,1.28,1.48,1.58,1.40,1.35,1.55,1.65, 1.48,1.42,1.62,1.72,1.55,1.50,1.70,1.80,1.62,1.58, 1.78,1.88,1.70,1.68,1.85,1.90],
[0,-.10,.08,-.05,.15,.25,.05,-.08,.12,.22, .05,.18,.30,.12,.02,.22,.35,.18,.10,.28, .40,.22,.15,.35,.45,.28,.20,.40,.50,.32, .25,.45,.55,.38,.30,.50,.60,.42,.35,.55, .65,.48,.42,.62,.70,.52,.48,.68,.75,.58, .52,.72,.80,.62,.58,.78,.85,.68,.62,.82, .90,.72,.68,.88,.95,.78,.72,.92,1.00,.82, .78,.95,1.02,.85,.80,1.00,1.08,.90,.85,1.05, 1.10,.92,.88,1.05,1.12,1.00]
];

const meanSeries = [ssp126Mean, ssp245Mean, ssp370Mean, ssp585Mean];
const modelSeries = [ssp126Models, ssp245Models, ssp370Models, ssp585Models];
const meanDash = ["31,10.5,10,10.5,10,10.5", "52,10.5", "31,10.5,10,10.5", null];

// ---------------- LAYOUT ----------------
const W = 2758, H = 1280;
const plot = {left: 219, right: 2692, top: 23, bottom: 1148};
const FONT = "DejaVu Sans";

const svg = d3.select("body").append("svg").attr("width", W).attr("height", H)
  .attr("font-family", FONT);

const x = d3.scaleLinear().domain([2015, 2100]).range([plot.left, plot.right]);
const y = d3.scaleLinear().domain([-0.5, 2.5]).range([plot.bottom, plot.top]);

// grid
const grid = svg.append("g");
grid.selectAll("line.gx").data(xTickValues).join("line")
  .attr("x1", d => x(d)).attr("x2", d => x(d))
  .attr("y1", plot.top).attr("y2", plot.bottom)
  .attr("stroke", "#ececec").attr("stroke-width", 2);
grid.selectAll("line.gy").data(yTickValues).join("line")
  .attr("x1", plot.left).attr("x2", plot.right)
  .attr("y1", d => y(d)).attr("y2", d => y(d))
  .attr("stroke", "#ececec").attr("stroke-width", 2);

// clip
svg.append("defs").append("clipPath").attr("id", "clip")
  .append("rect").attr("x", plot.left).attr("y", plot.top)
  .attr("width", plot.right - plot.left).attr("height", plot.bottom - plot.top);

const line = d3.line().x((d, i) => x(years[i])).y(d => y(d));
const lines = svg.append("g").attr("clip-path", "url(#clip)");

// thin model lines
modelSeries.forEach((models, s) => {
  models.forEach(m => {
    lines.append("path").attr("d", line(m))
      .attr("fill", "none").attr("stroke", scenarioColors[s])
      .attr("stroke-width", 1.8).attr("stroke-opacity", 0.62)
      .attr("stroke-dasharray", "7,3.5");
  });
});

// mean lines
meanSeries.forEach((m, s) => {
  const p = lines.append("path").attr("d", line(m))
    .attr("fill", "none").attr("stroke", scenarioColors[s])
    .attr("stroke-width", 10.5).attr("stroke-linejoin", "round")
    .attr("stroke-linecap", "butt");
  if (meanDash[s]) p.attr("stroke-dasharray", meanDash[s]);
});

// axes
function styleAxis(g) {
  g.attr("font-size", 48).attr("font-family", FONT);
  g.select(".domain").attr("stroke", "#000").attr("stroke-width", 2.5);
  g.selectAll(".tick line").attr("stroke", "#000").attr("stroke-width", 5);
  g.selectAll(".tick text").attr("fill", "#000");
}
svg.append("g").attr("transform", `translate(0,${plot.bottom})`)
  .call(d3.axisBottom(x).tickValues(xTickValues).tickSize(17).tickSizeOuter(0)
    .tickPadding(12).tickFormat(d3.format("d")))
  .call(styleAxis);
svg.append("g").attr("transform", `translate(0,${plot.top})`)
  .call(d3.axisTop(x).tickValues(xTickValues).tickSize(17).tickSizeOuter(0).tickFormat(""))
  .call(styleAxis);
svg.append("g").attr("transform", `translate(${plot.left},0)`)
  .call(d3.axisLeft(y).tickValues(yTickValues).tickSize(17).tickSizeOuter(0)
    .tickPadding(16).tickFormat(d3.format(".1f")))
  .call(styleAxis);
svg.append("g").attr("transform", `translate(${plot.right},0)`)
  .call(d3.axisRight(y).tickValues(yTickValues).tickSize(17).tickSizeOuter(0).tickFormat(""))
  .call(styleAxis);

// axis labels
svg.append("text").attr("x", (plot.left + plot.right) / 2).attr("y", 1270)
  .attr("text-anchor", "middle").attr("font-size", 48).attr("fill", "#000").text("Year");

const yl = svg.append("text")
  .attr("transform", `translate(45,${(plot.top + plot.bottom) / 2}) rotate(-90)`)
  .attr("text-anchor", "middle").attr("font-size", 51).attr("fill", "#000");
yl.append("tspan").text("Southern Ocean mean SST change (");
yl.append("tspan").attr("font-size", 36).attr("dy", -20).text("o");
yl.append("tspan").attr("dy", 20).text("C)");

// legend
const lg = svg.append("g");
lg.append("rect").attr("x", 245).attr("y", 48).attr("width", 370).attr("height", 311)
  .attr("rx", 10).attr("ry", 10)
  .attr("fill", "#fff").attr("fill-opacity", 0.8)
  .attr("stroke", "#d0d0d0").attr("stroke-width", 2.5);
const legendY = d3.scalePoint().domain(scenarios).range([89, 311]);
scenarios.forEach((name, s) => {
  const ly = legendY(name);
  const l = lg.append("line").attr("x1", 264).attr("x2", 365).attr("y1", ly).attr("y2", ly)
    .attr("stroke", scenarioColors[s]).attr("stroke-width", 10.5).attr("stroke-linecap", "butt");
  if (meanDash[s]) l.attr("stroke-dasharray", meanDash[s]);
  lg.append("text").attr("x", 406).attr("y", ly + 17.5).attr("font-size", 48)
    .attr("fill", "#000").text(name);
});
</script>
</body>
</html>
